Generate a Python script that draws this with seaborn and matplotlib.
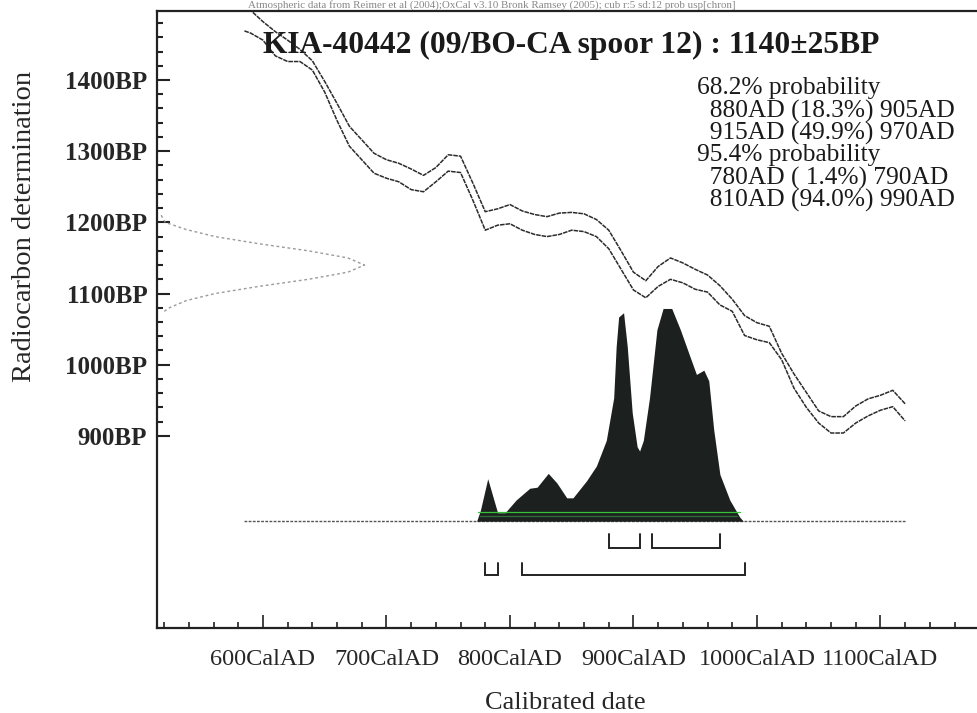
import matplotlib
matplotlib.use("Agg")
import matplotlib.pyplot as plt
from matplotlib.ticker import FixedLocator
import seaborn as sns
import pandas as pd

# calibration curve (IntCal band, upper and lower edge)
curve_years = [585, 590, 600, 610, 620, 630, 640, 650, 660, 670, 680, 690, 700,
               710, 720, 730, 740, 750, 760, 770, 780, 790, 800, 810, 820, 830,
               840, 850, 860, 870, 880, 890, 900, 910, 920, 930, 940, 950, 960,
               970, 980, 990, 1000, 1010, 1020, 1030, 1040, 1050, 1060, 1070,
               1080, 1090, 1100, 1110, 1120]
curve_upper = [1505, 1498, 1482, 1468, 1456, 1443, 1427, 1398, 1367, 1335, 1316,
               1297, 1288, 1283, 1275, 1266, 1277, 1295, 1293, 1255, 1215, 1219,
               1225, 1216, 1211, 1208, 1213, 1214, 1212, 1204, 1189, 1160, 1130,
               1118, 1138, 1150, 1143, 1134, 1126, 1111, 1092, 1069, 1059, 1054,
               1016, 987, 961, 935, 927, 927, 942, 952, 957, 964, 945]
curve_lower = [1469, 1466, 1456, 1434, 1426, 1426, 1414, 1383, 1343, 1307, 1288,
               1269, 1262, 1257, 1246, 1243, 1257, 1272, 1270, 1231, 1189, 1196,
               1198, 1189, 1183, 1180, 1183, 1189, 1187, 1180, 1163, 1134, 1105,
               1094, 1110, 1120, 1115, 1106, 1102, 1084, 1075, 1041, 1035, 1031,
               1007, 967, 940, 918, 904, 904, 918, 928, 936, 941, 921]

# measured radiocarbon age (likelihood drawn on the y axis)
likelihood_bp = [1210, 1200, 1190, 1180, 1170, 1160, 1150, 1140, 1130, 1120,
                 1110, 1100, 1090, 1080, 1074]
likelihood_rel = [0.02, 0.04, 0.14, 0.28, 0.49, 0.73, 0.92, 1.0, 0.92, 0.73,
                  0.49, 0.28, 0.14, 0.06, 0.03]

# calibrated probability distribution (relative height)
post_years = [773, 776, 782, 786, 790, 796, 805, 816, 822, 831, 838, 846, 851,
              862, 870, 878, 884, 886, 888, 892, 895, 899, 903, 905, 908, 913,
              919, 924, 931, 938, 946, 951, 957, 961, 965, 970, 978, 986, 989]
post_rel = [0.0, 0.05, 0.20, 0.12, 0.04, 0.04, 0.10, 0.155, 0.16, 0.225, 0.18,
            0.11, 0.11, 0.19, 0.26, 0.38, 0.58, 0.82, 0.96, 0.98, 0.82, 0.51,
            0.35, 0.33, 0.38, 0.58, 0.90, 1.0, 1.0, 0.90, 0.77, 0.69, 0.71,
            0.66, 0.43, 0.22, 0.10, 0.02, 0.0]

# highest probability ranges
ranges_68 = [(880, 905), (915, 970)]
ranges_95 = [(780, 790), (810, 990)]
range_lines = ["68.2% probability",
               "  880AD (18.3%) 905AD",
               "  915AD (49.9%) 970AD",
               "95.4% probability",
               "  780AD ( 1.4%) 790AD",
               "  810AD (94.0%) 990AD"]

x_major = [600, 700, 800, 900, 1000, 1100]
x_labels = [f"{v}CalAD" for v in x_major]
y_major = [900, 1000, 1100, 1200, 1300, 1400]
y_labels = [f"{v}BP" for v in y_major]

title = "KIA-40442 (09/BO-CA spoor 12) : 1140\u00b125BP"
header = ("Atmospheric data from Reimer et al (2004);OxCal v3.10 Bronk Ramsey (2005); "
          "cub r:5 sd:12 prob usp[chron]")

sns.set_style("ticks")
plt.rcParams["font.family"] = ["Liberation Serif", "DejaVu Serif"]

W, H = 978, 713
fig = plt.figure(figsize=(W / 100, H / 100), dpi=100)
ax = fig.add_axes([157 / W, 85 / H, 821 / W, 617 / H])
x_lo, x_hi = 514.2, 1179
y_lo, y_hi = 630, 1497
ax.set_xlim(x_lo, x_hi)
ax.set_ylim(y_lo, y_hi)

# calibration curve band
for edge in (curve_upper, curve_lower):
    sns.lineplot(x=curve_years, y=edge, ax=ax, color="#2b2b2b", lw=1.1,
                 estimator=None, sort=False, linestyle=(0, (3, 0.6)))

# radiocarbon likelihood along the y axis
like_amp = 168
like_x = [x_lo + r * like_amp for r in likelihood_rel]
sns.lineplot(x=like_x, y=likelihood_bp, ax=ax, color="#9a9a9a", lw=1.0,
             estimator=None, sort=False, linestyle=(0, (2, 2)))

# posterior distribution
base_bp = 780
post_scale = 299
post = pd.DataFrame({"year": post_years,
                     "bp": [base_bp + r * post_scale for r in post_rel]})
ax.fill_between(post["year"], base_bp, post["bp"], color="#1c201e", lw=0, zorder=3)
ax.plot([curve_years[0], curve_years[-1]], [base_bp, base_bp], color="#555555",
        lw=1.0, linestyle=(0, (2, 1)), zorder=2)
ax.plot([774, 986], [792.5, 792.5], color="#36c236", lw=0.9, zorder=4)
ax.plot([776, 984], [787, 787], color="#2f6f3a", lw=0.9, zorder=4)

# range brackets
def bracket(lo, hi, top, bottom):
    ax.plot([lo, lo, hi, hi], [top, bottom, bottom, top], color="#222222",
            lw=1.4, solid_joinstyle="miter", zorder=3)

for lo, hi in ranges_68:
    bracket(lo, hi, 762, 742)
for lo, hi in ranges_95:
    bracket(lo, hi, 722, 705)

# axes, ticks
ax.set_xticks(x_major)
ax.set_xticklabels(x_labels, fontsize=17.5)
ax.xaxis.set_minor_locator(FixedLocator(list(range(520, 1181, 20))))
ax.set_yticks(y_major)
ax.set_yticklabels(y_labels, fontsize=18, fontweight="bold")
ax.yaxis.set_minor_locator(FixedLocator(list(range(900, 1481, 20))))
ax.tick_params(axis="x", which="both", bottom=True, top=False)
ax.tick_params(axis="y", which="both", left=True, right=False)
ax.tick_params(axis="x", which="major", direction="in", length=9.5, width=1.2,
               pad=15, color="#222222")
ax.tick_params(axis="x", which="minor", direction="in", length=4.5, width=1.2,
               color="#222222")
ax.tick_params(axis="y", which="major", direction="in", length=9.5, width=1.5,
               pad=7, color="#222222")
ax.tick_params(axis="y", which="minor", direction="in", length=4, width=1.5,
               color="#222222")
ax.spines["right"].set_visible(False)
for s in ("left", "top", "bottom"):
    ax.spines[s].set_visible(True)
    ax.spines[s].set_linewidth(1.6)
    ax.spines[s].set_color("#222222")

fig.text(25 / W, 1 - 226 / H, "Radiocarbon determination", rotation=90,
         ha="center", va="center", fontsize=20.5)
fig.text(565 / W, 1 - 703 / H, "Calibrated date", ha="center", va="center",
         fontsize=19)

fig.text(571 / W, 1 - 45 / H, title, ha="center", va="center", fontsize=22.7,
         fontweight="bold", color="#1a1a1a")
fig.text(492 / W, 1 - 0.5 / H, header, ha="center", va="top", fontsize=7.9,
         color="#888888")

line_y = [88, 111, 133, 155, 178, 200]
for txt, yy in zip(range_lines, line_y):
    fig.text(697 / W, 1 - yy / H, txt, ha="left", va="center", fontsize=18.3,
             color="#1a1a1a")

fig.savefig("out.png", dpi=100, facecolor="white")
